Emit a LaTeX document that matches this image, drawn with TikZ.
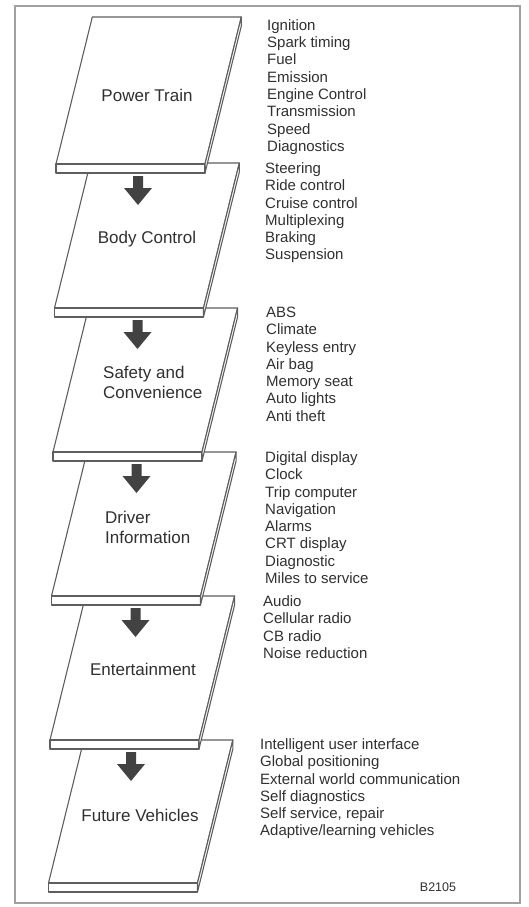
\documentclass[tikz,border=0pt]{standalone}
\usepackage{fontspec}
\setmainfont{Liberation Sans}

\definecolor{ink}{HTML}{303030}
\definecolor{edge}{HTML}{5E5E5E}
\definecolor{framegray}{HTML}{A0A0A0}
\definecolor{arrowfill}{HTML}{424242}

\tikzset{
  platepath/.style={draw=edge, line width=1.1pt, fill=white, line join=round},
  listitem/.style={anchor=base west, inner sep=0pt, text=ink,
                   font=\fontsize{15}{17}\selectfont},
  platelabel/.style={inner sep=0pt, text=ink, font=\fontsize{17}{20}\selectfont},
  downarrow/.style={fill=arrowfill, draw=none},
  framebox/.style={draw=framegray, line width=1.3pt},
}

% A thin slab seen from above: bottom-left x, top y, bottom y
\newcommand\drawplate[3]{%
  \path[platepath] (#1,#3) -- ({#1+149},#3)
      -- ({#1+149+0.247*(#3-#2)},#2) -- ({#1+0.247*(#3-#2)},#2) -- cycle;
  \path[platepath] (#1,#3) -- ({#1+149},#3) -- ({#1+149},{#3+9}) -- (#1,{#3+9}) -- cycle;
  \path[platepath] ({#1+149},#3) -- ({#1+149+0.247*(#3-#2)},#2)
      -- ({#1+149+0.247*(#3-#2)},{#2+9}) -- ({#1+149},{#3+9}) -- cycle;
}

% Block arrow pointing down, its top centre at a named coordinate
\newcommand\blockarrow[1]{%
  \path[downarrow, shift={(#1)}] (-5,0) -- (5,0) -- (5,12) -- (14,12)
      -- (0,29) -- (-14,12) -- (-5,12) -- cycle;
}

% Column of items: name, left x, centre y of the first line, items
\newcommand\itemlist[4]{%
  \foreach \t [count=\j from 0] in {#4}
    \node[listitem] (#1-\j) at (#2, {#3+5.4+17.3*\j}) {\t};
}

\begin{document}
\begin{tikzpicture}[x=1pt, y=-1pt]
  \useasboundingbox (0,0) rectangle (528,907);
  \draw[framebox] (15,6) rectangle (520,903);

  % stack of layers, lowest first so upper slabs overlap
  \drawplate{48.5}{740}{883}
  \drawplate{50}{596}{740}
  \drawplate{51.5}{452}{596}
  \drawplate{53}{308}{452}
  \drawplate{54.5}{163}{308}
  \drawplate{56}{17}{164}

  % arrows between layers
  \coordinate (a1) at (138,176);
  \coordinate (a2) at (137.5,320);
  \coordinate (a3) at (136.5,464);
  \coordinate (a4) at (135.5,608);
  \coordinate (a5) at (131,752);
  \foreach \a in {a1,a2,a3,a4,a5} { \blockarrow{\a} }

  % layer names
  \node[platelabel, anchor=base] (lbl-pt) at (147,101) {Power Train};
  \node[platelabel, anchor=base] (lbl-bc) at (147,243) {Body Control};
  \node[platelabel, anchor=base west] (lbl-sc1) at (103,378) {Safety and};
  \node[platelabel, anchor=base west] (lbl-sc2) at (103,398) {Convenience};
  \node[platelabel, anchor=base west] (lbl-di1) at (105,523) {Driver};
  \node[platelabel, anchor=base west] (lbl-di2) at (105,543) {Information};
  \node[platelabel, anchor=base] (lbl-en) at (143,675) {Entertainment};
  \node[platelabel, anchor=base] (lbl-fv) at (140,821) {Future Vehicles};

  % functions of each layer
  \itemlist{pt}{267}{25}{Ignition, Spark timing, Fuel, Emission, Engine Control,
    Transmission, Speed, Diagnostics}
  \itemlist{bc}{265}{168}{Steering, Ride control, Cruise control, Multiplexing,
    Braking, Suspension}
  \itemlist{sc}{266}{312}{ABS, Climate, Keyless entry, Air bag, Memory seat,
    Auto lights, Anti theft}
  \itemlist{di}{265}{457}{Digital display, Clock, Trip computer, Navigation,
    Alarms, CRT display, Diagnostic, Miles to service}
  \itemlist{en}{263}{601}{Audio, Cellular radio, CB radio, Noise reduction}
  \itemlist{fv}{260}{744}{Intelligent user interface, Global positioning,
    External world communication, Self diagnostics, {Self service, repair},
    Adaptive/learning vehicles}

  \node[inner sep=0pt, text=ink, font=\fontsize{12.5}{15}\selectfont] (code) at (438,887) {B2105};
\end{tikzpicture}
\end{document}
